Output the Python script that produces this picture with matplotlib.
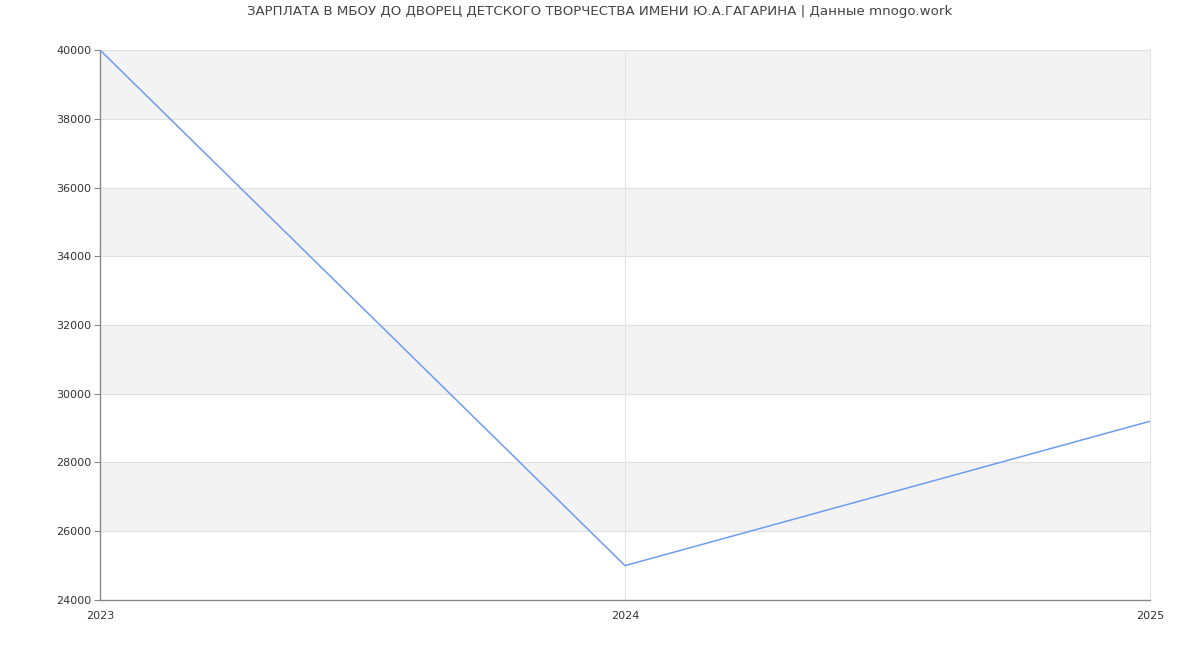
import matplotlib
matplotlib.use("Agg")
import matplotlib.pyplot as plt

years = [2023, 2024, 2025]
salary = [40000, 25000, 29200]
yticks = list(range(24000, 40001, 2000))
title = "ЗАРПЛАТА В МБОУ ДО ДВОРЕЦ ДЕТСКОГО ТВОРЧЕСТВА ИМЕНИ Ю.А.ГАГАРИНА | Данные mnogo.work"

plt.rcParams['font.family'] = ['DejaVu Sans']

fig = plt.figure(figsize=(12, 6.5), dpi=100)
ax = fig.add_axes([100 / 1200, 50 / 650, 1050 / 1200, 550 / 650])

# alternating bands
for i, lo in enumerate(yticks[:-1]):
    if i % 2 == 1:
        ax.axhspan(lo, lo + 2000, color="#f3f3f3", zorder=0, lw=0)
for y in yticks[1:]:
    ax.axhline(y, color="#e0e0e0", lw=0.8, zorder=1)
for x in years[1:]:
    ax.axvline(x, color="#e3e3e3", lw=0.8, zorder=1, clip_on=False)

ax.plot(years, salary, color="#6e9cf0", lw=1.1, zorder=3)

ax.set_xlim(2023, 2025)
ax.set_ylim(24000, 40000)
ax.set_yticks(yticks)
ax.set_xticks(years)
ax.set_xticklabels([str(y) for y in years])

for s in ["top", "right"]:
    ax.spines[s].set_visible(False)
for s in ["left", "bottom"]:
    ax.spines[s].set_color("#888888")
    ax.spines[s].set_linewidth(1)

ax.tick_params(axis="y", length=4, color="#888888", labelsize=8, labelcolor="#333333", pad=2)
ax.tick_params(axis="x", length=0, labelsize=8, labelcolor="#333333", pad=8)

fig.text(0.5, 1 - 12 / 650, title, ha="center", va="center", fontsize=9.6, color="#444444")

fig.savefig("out.png", dpi=100)
